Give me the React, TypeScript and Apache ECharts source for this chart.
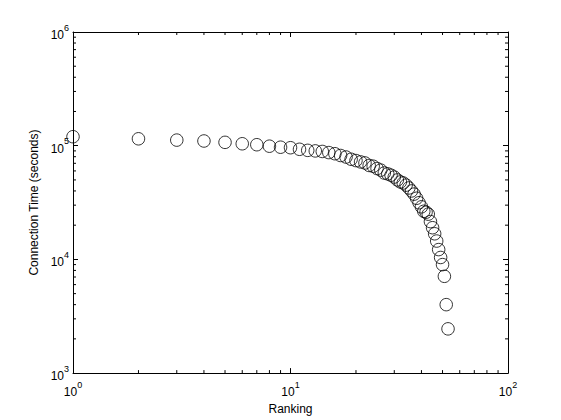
import React, { useEffect, useRef } from "react";
import * as echarts from "echarts";

const ranking: number[] = Array.from({ length: 53 }, (_, i) => i + 1);
const connectionTime: number[] = [
  120000, 115000, 112000, 110000, 107000, 104000, 102000, 99000, 97000, 96000,
  93000, 91000, 90000, 89000, 87000, 85000, 82000, 79500, 76000, 74000,
  72000, 70500, 67000, 66000, 63000, 61000, 57500, 56500, 55000, 53000,
  50000, 48000, 47000, 45000, 42500, 40000, 37500, 34500, 31500, 29000,
  26500, 26000, 25000, 21500, 19000, 16800, 14500, 12200, 10400, 9000,
  7100, 4000, 2450,
];
const xMinorTicks: number[] = [2, 3, 4, 5, 6, 7, 8, 9, 20, 30, 40, 50, 60, 70, 80, 90];
const yMinorTicks: number[] = [
  2000, 3000, 4000, 5000, 6000, 7000, 8000, 9000,
  20000, 30000, 40000, 50000, 60000, 70000, 80000, 90000,
  200000, 300000, 400000, 500000, 600000, 700000, 800000, 900000,
];

const FONT = "Liberation Sans, Arial, sans-serif";

export default function App() {
  const ref = useRef<HTMLDivElement>(null);
  useEffect(() => {
    if (!ref.current) return;
    const chart = echarts.init(ref.current, null, { renderer: "svg" });
    const powLabel = (v: number) => `{b|10}{s|${Math.round(Math.log10(v))}}`;
    const rich = {
      b: { fontSize: 12, fontFamily: FONT, color: "#000", lineHeight: 18, verticalAlign: "bottom" },
      s: { fontSize: 9, fontFamily: FONT, color: "#000", lineHeight: 10, verticalAlign: "top" },
    };
    const axisLine = { show: true, onZero: false, lineStyle: { color: "#000", width: 1 } };
    const majorTick = { show: true, inside: true, length: 5, lineStyle: { color: "#000", width: 1 } };
    const option: any = {
      animation: false,
      backgroundColor: "#fff",
      grid: { left: 73, top: 32, right: 53, bottom: 46, containLabel: false },
      xAxis: [
        {
          type: "log", logBase: 10, min: 1, max: 100, position: "bottom",
          axisLine, axisTick: majorTick, splitLine: { show: false }, minorTick: { show: false },
          axisLabel: { formatter: powLabel, rich, margin: 7 },
          name: "Ranking", nameLocation: "middle", nameGap: 23,
          nameTextStyle: { fontSize: 12, fontFamily: FONT, color: "#000" },
        },
        {
          type: "log", logBase: 10, min: 1, max: 100, position: "top",
          axisLine, axisTick: majorTick, splitLine: { show: false }, axisLabel: { show: false },
        },
      ],
      yAxis: [
        {
          type: "log", logBase: 10, min: 1000, max: 1000000, position: "left",
          axisLine, axisTick: majorTick, splitLine: { show: false }, minorTick: { show: false },
          axisLabel: { formatter: powLabel, rich, margin: 4 },
          name: "Connection Time (seconds)", nameLocation: "middle", nameGap: 30,
          nameTextStyle: { fontSize: 12, fontFamily: FONT, color: "#000" },
        },
        {
          type: "log", logBase: 10, min: 1000, max: 1000000, position: "right",
          axisLine, axisTick: majorTick, splitLine: { show: false }, axisLabel: { show: false },
        },
      ],
      series: [
        {
          type: "custom",
          xAxisIndex: 0, yAxisIndex: 0, silent: true, clip: false,
          data: xMinorTicks.map((v) => [v, 1000]),
          renderItem: (params: any, api: any) => {
            const v = api.value(0);
            const b = api.coord([v, 1000]);
            const t = api.coord([v, 1000000]);
            return {
              type: "group",
              children: [
                { type: "line", shape: { x1: b[0], y1: b[1], x2: b[0], y2: b[1] - 3 }, style: { stroke: "#000", lineWidth: 1 } },
                { type: "line", shape: { x1: t[0], y1: t[1], x2: t[0], y2: t[1] + 3 }, style: { stroke: "#000", lineWidth: 1 } },
              ],
            };
          },
        },
        {
          type: "custom",
          xAxisIndex: 0, yAxisIndex: 0, silent: true, clip: false,
          data: yMinorTicks.map((v) => [1, v]),
          renderItem: (params: any, api: any) => {
            const v = api.value(1);
            const l = api.coord([1, v]);
            const r = api.coord([100, v]);
            return {
              type: "group",
              children: [
                { type: "line", shape: { x1: l[0], y1: l[1], x2: l[0] + 3, y2: l[1] }, style: { stroke: "#000", lineWidth: 1 } },
                { type: "line", shape: { x1: r[0], y1: r[1], x2: r[0] - 3, y2: r[1] }, style: { stroke: "#000", lineWidth: 1 } },
              ],
            };
          },
        },
        {
          type: "scatter",
          xAxisIndex: 0, yAxisIndex: 0, clip: false,
          symbol: "circle", symbolSize: 12.5,
          itemStyle: { color: "none", borderColor: "#000", borderWidth: 1 },
          data: ranking.map((r, i) => [r, connectionTime[i]]),
        },
      ],
    };
    chart.setOption(option);
    return () => chart.dispose();
  }, []);
  return (
    <div
      ref={ref}
      style={{ position: "fixed", left: 0, top: 0, width: 561, height: 420, background: "#fff" }}
    />
  );
}
